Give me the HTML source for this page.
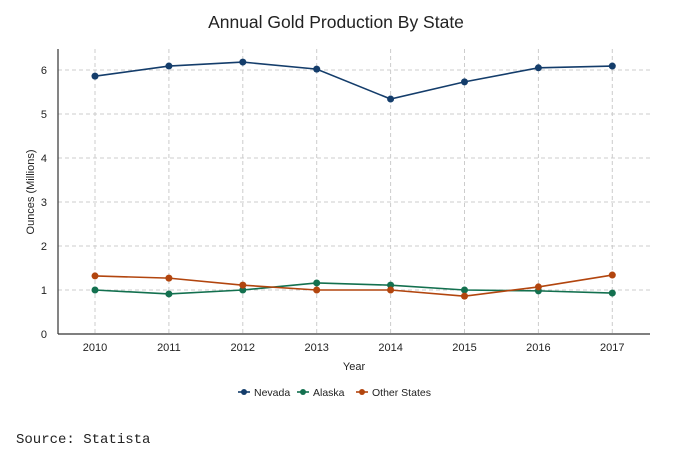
<!DOCTYPE html>
<html><head><meta charset="utf-8"><style>
body{margin:0;background:#fff;width:688px;height:459px;overflow:hidden;font-family:"Liberation Sans",sans-serif}
svg text{font-family:"Liberation Sans",sans-serif}
</style></head><body>
<svg id="chart" width="688" height="459">
<text x="336" y="28" text-anchor="middle" font-size="17.5" fill="#222">Annual Gold Production By State</text>
<g id="grid"></g><g id="axes"></g><g id="series"></g>
<text x="354" y="370" text-anchor="middle" font-size="11" fill="#222">Year</text>
<text transform="translate(34,192) rotate(-90)" text-anchor="middle" font-size="11" fill="#222">Ounces (Millions)</text>
<g id="legend"></g>
<text x="16" y="443" font-size="14" fill="#222" style="font-family:'Liberation Mono',monospace">Source: Statista</text>
</svg>
<script>
const years=["2010","2011","2012","2013","2014","2015","2016","2017"];
const nevada=[5.86,6.09,6.18,6.02,5.34,5.73,6.05,6.09];
const alaska=[1.0,0.91,1.0,1.16,1.11,1.0,0.98,0.93];
const other=[1.32,1.27,1.11,1.0,1.0,0.86,1.07,1.34];
const yTicks=[0,1,2,3,4,5,6];
const seriesNames=["Nevada","Alaska","Other States"];
const colors=["#143d6b","#13704f","#b2450e"];
const NS="http://www.w3.org/2000/svg";
function mk(t,a,p){const e=document.createElementNS(NS,t);for(const k in a)e.setAttribute(k,a[k]);p.appendChild(e);return e;}
const L=58,R=650,T=49,B=334;
const x=i=>95+i*73.9;
const y=v=>B-v*44;
const grid=document.getElementById('grid'),axes=document.getElementById('axes'),ser=document.getElementById('series'),leg=document.getElementById('legend');
yTicks.forEach(v=>{
 if(v>0){const g=mk('line',{x1:L,x2:R,y1:y(v),y2:y(v),stroke:'#cccccc','stroke-dasharray':'4,3'},grid);
 
 }
 const t=mk('text',{x:47,y:y(v)+4,'text-anchor':'end','font-size':11,fill:'#222'},axes);t.textContent=v;
 
 
});
years.forEach((yr,i)=>{
 const g=mk('line',{x1:x(i),x2:x(i),y1:T,y2:B,stroke:'#cccccc','stroke-dasharray':'4,3'},grid);
 
 
 const t=mk('text',{x:x(i),y:351,'text-anchor':'middle','font-size':11,fill:'#222'},axes);t.textContent=yr;
 
 
});
const ya=mk('line',{x1:L,x2:L,y1:T,y2:B,stroke:'#333','stroke-width':1.2},axes);


const xa=mk('line',{x1:L,x2:R,y1:B,y2:B,stroke:'#333','stroke-width':1.2},axes);


[nevada,alaska,other].forEach((d,s)=>{
 const p=mk('polyline',{points:d.map((v,i)=>x(i)+','+y(v)).join(' '),fill:'none',stroke:colors[s],'stroke-width':1.6},ser);
 
 
 d.forEach((v,i)=>{const c=mk('circle',{cx:x(i),cy:y(v),r:3.5,fill:colors[s]},ser);
 
 });
});
const lx=[244,303,362];
seriesNames.forEach((n,s)=>{
 const g=mk('g',{},leg);
 
 
 mk('line',{x1:lx[s]-6,x2:lx[s]+6,y1:392,y2:392,stroke:colors[s],'stroke-width':1.6},g);
 mk('circle',{cx:lx[s],cy:392,r:3,fill:colors[s]},g);
 const t=mk('text',{x:lx[s]+10,y:396,'font-size':10.5,fill:'#222'},g);t.textContent=n;
});
</script>
</body></html>
